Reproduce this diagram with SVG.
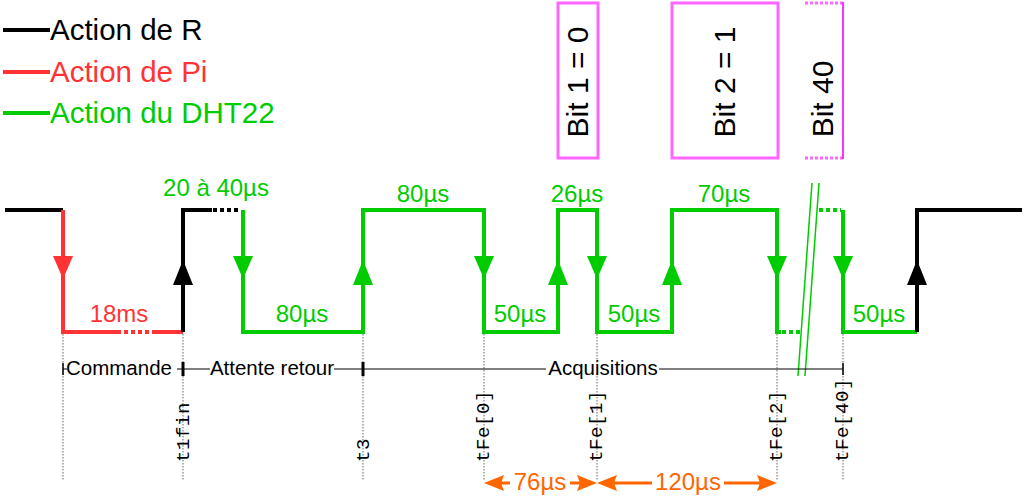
<svg xmlns="http://www.w3.org/2000/svg" width="1026" height="497" viewBox="0 0 1026 497">
<style>
text{font-family:"Liberation Sans",Arial,sans-serif}
.w{fill:none;stroke-width:4;stroke-linejoin:miter;stroke-linecap:butt}
.k{stroke:#000}.r{stroke:#ff3333}.g{stroke:#00cc00}
.dot{stroke-dasharray:4,3}
.lbl{font-size:24px;text-anchor:middle}
.gt{fill:#00cc00}.rt{fill:#ff3333}.ot{fill:#ff6600}
.grid{stroke:#999;stroke-width:1.5;stroke-dasharray:1.5,1.5;fill:none}
.mono{font-family:"Liberation Mono","Courier New",monospace;font-size:19px;letter-spacing:0.6px;fill:#000}
.ph{font-size:20.5px;fill:#000}
.bit{font-size:30px;text-anchor:middle;fill:#000}
.box{fill:none;stroke:#ff66ff;stroke-width:3}
</style>
<defs>
<path id="ad" d="M0,0 L-10,-23 L10,-23 Z"/>
<path id="au" d="M0,0 L-10,25 L10,25 Z"/>
<path id="ol" d="M0,0 L20,-8 L17,0 L20,8 Z"/>
<path id="or" d="M0,0 L-20,-8 L-17,0 L-20,8 Z"/>
</defs>

<g id="legend">
<line x1="3" y1="30" x2="50" y2="30" class="w k"/>
<text x="50" y="40" font-size="29.5" fill="#000">Action de R</text>
<line x1="3" y1="72" x2="50" y2="72" class="w r"/>
<text x="50" y="82" font-size="29.5" class="rt">Action de Pi</text>
<line x1="3" y1="113" x2="50" y2="113" class="w g"/>
<text x="50" y="123" font-size="29.5" class="gt">Action du DHT22</text>
</g>

<g id="bits">
<g id="bit1">
<rect x="558" y="3" width="40" height="155" class="box"/>
<text class="bit" transform="translate(588,82) rotate(-90)">Bit 1 = 0</text>
</g>
<g id="bit2">
<rect x="672" y="3" width="106" height="155" class="box"/>
<text class="bit" transform="translate(735,82) rotate(-90)">Bit 2 = 1</text>
</g>
<g id="bit40">
<line x1="805" y1="3" x2="843" y2="3" class="box" stroke-dasharray="3,2"/>
<line x1="805" y1="158" x2="843" y2="158" class="box" stroke-dasharray="3,2"/>
<line x1="843" y1="2" x2="843" y2="159" stroke="#ff33ff" stroke-width="2"/>
<text class="bit" transform="translate(833,99) rotate(-90)">Bit 40</text>
</g>
</g>

<g id="grid">
<line x1="63" y1="334" x2="63" y2="480" class="grid"/>
<line x1="183" y1="334" x2="183" y2="480" class="grid"/>
<line x1="363" y1="334" x2="363" y2="480" class="grid"/>
<line x1="484" y1="334" x2="484" y2="480" class="grid"/>
<line x1="597" y1="334" x2="597" y2="480" class="grid"/>
<line x1="777" y1="334" x2="777" y2="480" class="grid"/>
<line x1="843" y1="334" x2="843" y2="480" class="grid"/>
</g>

<g id="connectors">
<polyline points="5,210 63,210" class="w k"/>
<polyline points="63,210 63,332 117,332" class="w r"/>
<line x1="117" y1="332" x2="153" y2="332" class="w r dot"/>
<line x1="153" y1="332" x2="183" y2="332" class="w r"/>
<polyline points="183,332 183,210 212,210" class="w k"/>
<line x1="213" y1="210" x2="241" y2="210" class="w k dot"/>
<polyline points="243,210 243,332 363,332 363,210 484,210 484,332 558,332 558,210 597,210 597,332 672,332 672,210 777,210 777,332 781,332" class="w g"/>
<line x1="782" y1="332" x2="801" y2="332" class="w g dot"/>
<line x1="819" y1="210" x2="841" y2="210" class="w g dot"/>
<polyline points="843,210 843,332 917,332" class="w g"/>
<polyline points="917,332 917,210 1022,210" class="w k"/>
<use href="#ad" x="63" y="279" fill="#ff3333"/>
<use href="#au" x="183" y="260" fill="#000"/>
<use href="#ad" x="243" y="279" fill="#00cc00"/>
<use href="#au" x="363" y="260" fill="#00cc00"/>
<use href="#ad" x="484" y="279" fill="#00cc00"/>
<use href="#au" x="558" y="260" fill="#00cc00"/>
<use href="#ad" x="597" y="279" fill="#00cc00"/>
<use href="#au" x="672" y="260" fill="#00cc00"/>
<use href="#ad" x="777" y="279" fill="#00cc00"/>
<use href="#ad" x="843" y="279" fill="#00cc00"/>
<use href="#au" x="917" y="260" fill="#000"/>
<line x1="812" y1="183" x2="798" y2="376" stroke="#00cc00" stroke-width="1.5"/>
<line x1="819" y1="183" x2="805" y2="376" stroke="#00cc00" stroke-width="1.5"/>
</g>

<g id="durations">
<text x="119" y="322" class="lbl rt">18ms</text>
<text x="216" y="196" class="lbl gt">20 à 40µs</text>
<text x="302" y="322" class="lbl gt">80µs</text>
<text x="423" y="202" class="lbl gt">80µs</text>
<text x="520" y="322" class="lbl gt">50µs</text>
<text x="577" y="202" class="lbl gt">26µs</text>
<text x="634" y="322" class="lbl gt">50µs</text>
<text x="724" y="202" class="lbl gt">70µs</text>
<text x="879" y="322" class="lbl gt">50µs</text>
</g>

<g id="phases">
<line x1="63" y1="369" x2="67" y2="369" stroke="#000" stroke-width="1"/>
<line x1="63" y1="363" x2="63" y2="375" stroke="#000" stroke-width="1.5"/>
<text x="66" y="375" class="ph">Commande</text>
<line x1="177" y1="369" x2="210" y2="369" stroke="#000" stroke-width="1"/>
<line x1="183" y1="362" x2="183" y2="376" stroke="#000" stroke-width="3"/>
<text x="272" y="375" class="ph" text-anchor="middle">Attente retour</text>
<line x1="334" y1="369" x2="546" y2="369" stroke="#000" stroke-width="1"/>
<line x1="363" y1="362" x2="363" y2="376" stroke="#000" stroke-width="3"/>
<text x="603" y="375" class="ph" text-anchor="middle">Acquisitions</text>
<line x1="659" y1="369" x2="843" y2="369" stroke="#000" stroke-width="1"/>
<line x1="843" y1="363" x2="843" y2="375" stroke="#000" stroke-width="1.5"/>
</g>

<g id="instants">
<text class="mono" transform="translate(189,462) rotate(-90)">t1fin</text>
<text class="mono" transform="translate(369,462) rotate(-90)">t3</text>
<text class="mono" transform="translate(489,462) rotate(-90)">tFe[0]</text>
<text class="mono" transform="translate(602,462) rotate(-90)">tFe[1]</text>
<text class="mono" transform="translate(782,462) rotate(-90)">tFe[2]</text>
<text class="mono" transform="translate(848,462) rotate(-90)">tFe[40]</text>
</g>

<g id="intervals">
<use href="#ol" x="484" y="483" fill="#ff6600"/>
<line x1="500" y1="483" x2="510" y2="483" stroke="#ff6600" stroke-width="3"/>
<text x="540" y="490" class="lbl ot">76µs</text>
<line x1="570" y1="483" x2="582" y2="483" stroke="#ff6600" stroke-width="3"/>
<use href="#or" x="597" y="483" fill="#ff6600"/>
<use href="#ol" x="597" y="483" fill="#ff6600"/>
<line x1="612" y1="483" x2="652" y2="483" stroke="#ff6600" stroke-width="3"/>
<text x="688" y="490" class="lbl ot">120µs</text>
<line x1="724" y1="483" x2="762" y2="483" stroke="#ff6600" stroke-width="3"/>
<use href="#or" x="777" y="483" fill="#ff6600"/>
</g>
</svg>
